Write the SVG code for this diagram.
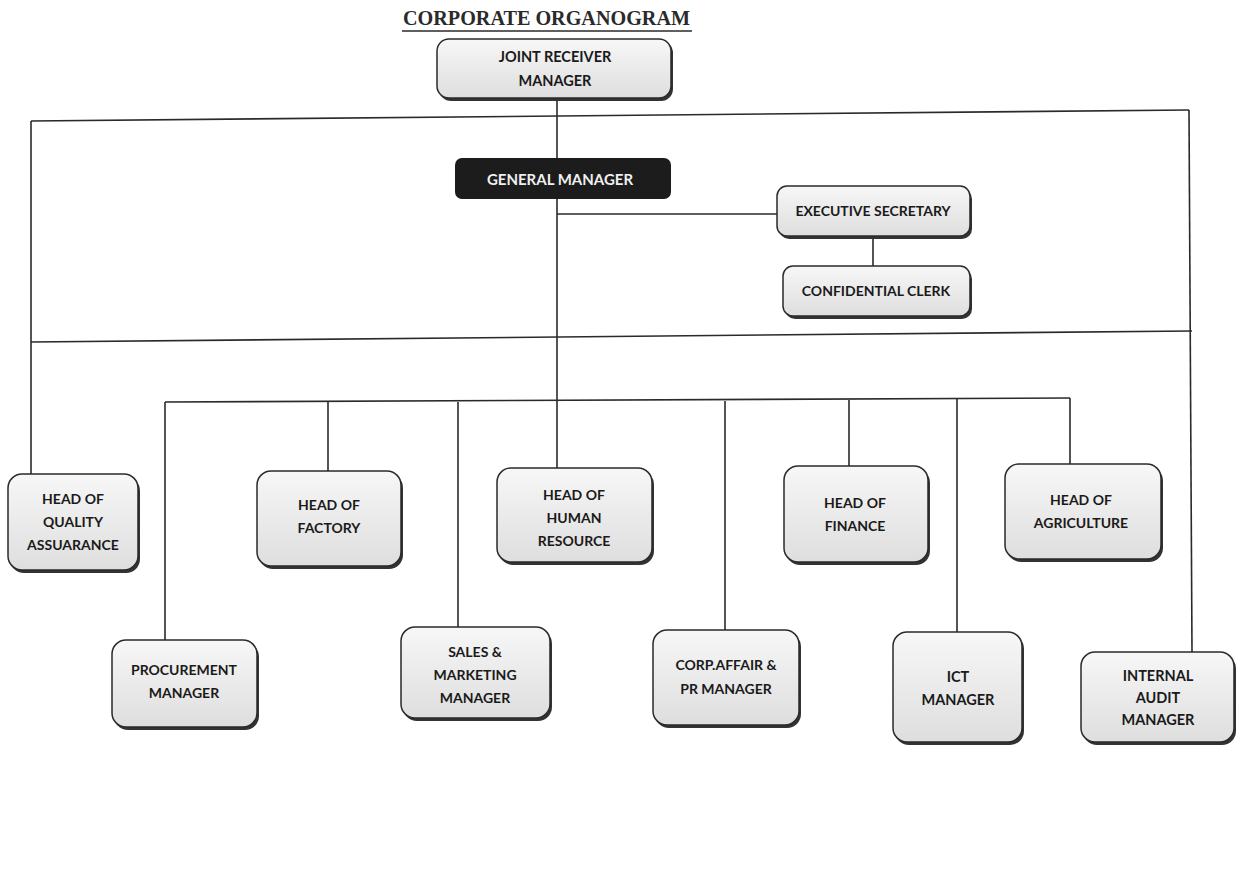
<svg xmlns="http://www.w3.org/2000/svg" width="1237" height="885" viewBox="0 0 1237 885">
<defs>
<linearGradient id="g" x1="0" y1="0" x2="0" y2="1">
<stop offset="0" stop-color="#f7f7f7"/>
<stop offset="1" stop-color="#dedede"/>
</linearGradient>
</defs>
<style>
.box{fill:url(#g);stroke:#2a2a2a;stroke-width:1.5}
.sh{fill:#333}
.t{font-family:Lato,"Liberation Sans",sans-serif;font-weight:bold;font-size:14px;fill:#1a1a1a;text-anchor:middle}
.big{font-size:14.5px}
.ln{stroke:#2a2a2a;stroke-width:1.6;fill:none}
.title{font-family:"Liberation Serif",serif;font-weight:bold;font-size:20px;fill:#2a2a2a}
</style>
<rect width="1237" height="885" fill="#fff"/>
<g id="title">
<text class="title" x="403" y="25" textLength="287" lengthAdjust="spacingAndGlyphs">CORPORATE ORGANOGRAM</text>
<line x1="402" y1="31" x2="692" y2="31" stroke="#2a2a2a" stroke-width="1.5"/>
</g>
<g id="connectors">
<path class="ln" d="M557,100 V468"/>
<path class="ln" d="M31,121 L1189,110"/>
<path class="ln" d="M31,121 V474"/>
<path class="ln" d="M1189,110 L1192,652"/>
<path class="ln" d="M31,342 L1192,331"/>
<path class="ln" d="M557,214 H777"/>
<path class="ln" d="M873,237 V266"/>
<path class="ln" d="M165,402 L1070,398"/>
<path class="ln" d="M165,402 V640"/>
<path class="ln" d="M328,402 V471"/>
<path class="ln" d="M458,402 V627"/>
<path class="ln" d="M725,401 V630"/>
<path class="ln" d="M849,400 V466"/>
<path class="ln" d="M957,399 V632"/>
<path class="ln" d="M1070,398 V464"/>
</g>
<g id="jrm">
<rect class="sh" x="439" y="41" width="234" height="60" rx="12"/>
<rect class="box" x="437" y="39" width="234" height="59" rx="12"/>
<text class="t big" x="555" y="62">JOINT RECEIVER</text>
<text class="t big" x="555" y="86">MANAGER</text>
</g>
<g id="gm">
<rect x="455" y="158" width="216" height="41" rx="7" fill="#1c1c1c"/>
<text class="t" x="560" y="185" style="fill:#f0f0f0;font-size:15px">GENERAL MANAGER</text>
</g>
<g id="exec">
<rect class="sh" x="779" y="189" width="193" height="50" rx="10"/>
<rect class="box" x="777" y="186" width="193" height="50" rx="10"/>
<text class="t" x="873" y="216">EXECUTIVE SECRETARY</text>
</g>
<g id="clerk">
<rect class="sh" x="785" y="269" width="187" height="50" rx="10"/>
<rect class="box" x="783" y="266" width="187" height="50" rx="10"/>
<text class="t" x="876" y="296">CONFIDENTIAL CLERK</text>
</g>
<g id="qa">
<rect class="sh" x="10" y="477" width="130" height="96" rx="14"/>
<rect class="box" x="8" y="474" width="130" height="96" rx="14"/>
<text class="t" x="73" y="504">HEAD OF</text>
<text class="t" x="73" y="527">QUALITY</text>
<text class="t" x="73" y="550">ASSUARANCE</text>
</g>
<g id="factory">
<rect class="sh" x="259" y="474" width="144" height="95" rx="14"/>
<rect class="box" x="257" y="471" width="144" height="95" rx="14"/>
<text class="t" x="329" y="510">HEAD OF</text>
<text class="t" x="329" y="533">FACTORY</text>
</g>
<g id="hr">
<rect class="sh" x="499" y="471" width="155" height="94" rx="14"/>
<rect class="box" x="497" y="468" width="155" height="94" rx="14"/>
<text class="t" x="574" y="500">HEAD OF</text>
<text class="t" x="574" y="523">HUMAN</text>
<text class="t" x="574" y="546">RESOURCE</text>
</g>
<g id="finance">
<rect class="sh" x="786" y="469" width="144" height="96" rx="14"/>
<rect class="box" x="784" y="466" width="144" height="96" rx="14"/>
<text class="t" x="855" y="508">HEAD OF</text>
<text class="t" x="855" y="531">FINANCE</text>
</g>
<g id="agri">
<rect class="sh" x="1007" y="467" width="156" height="95" rx="14"/>
<rect class="box" x="1005" y="464" width="156" height="95" rx="14"/>
<text class="t" x="1081" y="505">HEAD OF</text>
<text class="t" x="1081" y="528">AGRICULTURE</text>
</g>
<g id="proc">
<rect class="sh" x="114" y="643" width="145" height="87" rx="14"/>
<rect class="box" x="112" y="640" width="145" height="87" rx="14"/>
<text class="t" x="184" y="675">PROCUREMENT</text>
<text class="t" x="184" y="698">MANAGER</text>
</g>
<g id="sales">
<rect class="sh" x="403" y="630" width="149" height="91" rx="14"/>
<rect class="box" x="401" y="627" width="149" height="91" rx="14"/>
<text class="t" x="475" y="657">SALES &amp;</text>
<text class="t" x="475" y="680">MARKETING</text>
<text class="t" x="475" y="703">MANAGER</text>
</g>
<g id="corp">
<rect class="sh" x="655" y="633" width="146" height="95" rx="14"/>
<rect class="box" x="653" y="630" width="146" height="95" rx="14"/>
<text class="t" x="726" y="670">CORP.AFFAIR &amp;</text>
<text class="t" x="726" y="694">PR MANAGER</text>
</g>
<g id="ict">
<rect class="sh" x="895" y="635" width="129" height="110" rx="14"/>
<rect class="box" x="893" y="632" width="129" height="110" rx="14"/>
<text class="t big" x="958" y="682">ICT</text>
<text class="t big" x="958" y="705">MANAGER</text>
</g>
<g id="audit">
<rect class="sh" x="1083" y="655" width="153" height="90" rx="14"/>
<rect class="box" x="1081" y="652" width="153" height="90" rx="14"/>
<text class="t big" x="1158" y="681">INTERNAL</text>
<text class="t big" x="1158" y="703">AUDIT</text>
<text class="t big" x="1158" y="725">MANAGER</text>
</g>
</svg>
